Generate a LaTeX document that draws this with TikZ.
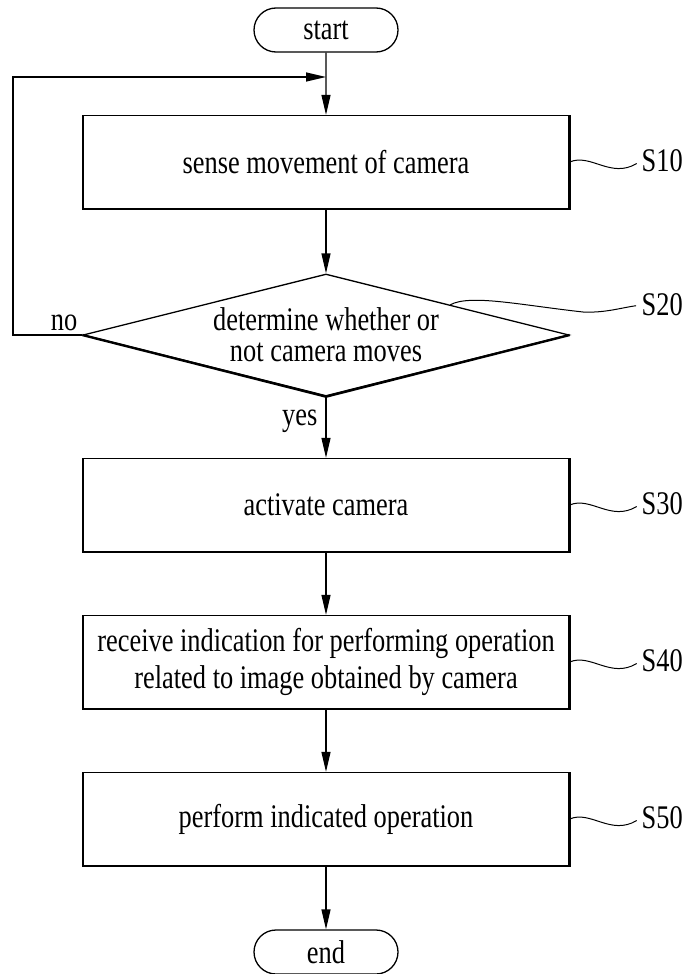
\documentclass[tikz,border=0pt]{standalone}
\usepackage{fontspec}
\setmainfont{Liberation Serif}[FakeStretch=0.8]
\usetikzlibrary{shapes.geometric, shapes.misc, arrows.meta, positioning, calc}

\begin{document}
\begin{tikzpicture}[
    x=1pt, y=-1pt,
    line width=1.3pt,
    box/.style={rectangle, draw, minimum width=486pt, minimum height=93pt, inner sep=0pt, align=center, font=\fontsize{33}{37}\selectfont},
    terminal/.style={rounded rectangle, draw, minimum width=144pt, minimum height=44pt, inner sep=0pt, font=\fontsize{33}{37}\selectfont},
    decision/.style={diamond, draw, aspect=4, minimum width=486pt, minimum height=122pt, inner sep=0pt, align=center, font=\fontsize{33}{31}\selectfont},
    steplabel/.style={anchor=west, inner sep=0pt, font=\fontsize{33}{37}\selectfont},
    branch/.style={anchor=base east, inner sep=0pt, font=\fontsize{33}{37}\selectfont},
    arrow/.style={-{Triangle[length=20pt, width=9pt]}},
    leader/.style={line width=1pt, shorten >=5pt}
]
    \useasboundingbox (0,0) rectangle (691,974);

    \node[terminal] (start) at (326,30) {start};
    \node[box] (s10) at (326,162) {sense movement of camera};
    \node[decision] (dec) at (326,335) {determine whether or\\not camera moves};
    \node[box] (s30) at (326,505) {activate camera};
    \node[box] (s40) at (326,662) {receive indication for performing operation\\related to image obtained by camera};
    \node[box] (s50) at (326,819) {perform indicated operation};
    \node[terminal] (stop) at (326,952) {end};

    \node[branch] (no) at (78,330) {no};
    \node[branch] (yes) at (318,425) {yes};

    \node[steplabel] (l10) at (641,161) {S10};
    \node[steplabel] (l20) at (641,305) {S20};
    \node[steplabel] (l30) at (641,504) {S30};
    \node[steplabel] (l40) at (641,661) {S40};
    \node[steplabel] (l50) at (641,818) {S50};

    % heavier lower and right edges
    \foreach \b in {s10,s30,s40,s50}
        \draw[line width=2.4pt] (\b.south west) -- (\b.south east) -- (\b.north east);
    \draw[line width=2.4pt] (dec.west) -- (dec.south) -- (dec.east);

    \coordinate (jn) at (326,77);
    \coordinate (back) at (13,77);

    \draw[arrow] (start) -- (s10);
    \draw[arrow] (s10) -- (dec);
    \draw[arrow] (dec) -- (s30);
    \draw[arrow] (s30) -- (s40);
    \draw[arrow] (s40) -- (s50);
    \draw[arrow] (s50) -- (stop);
    \draw[arrow] (dec.west) -| (back) -- (jn);

    % step leaders
    \foreach \n in {10,30,40,50}
        \draw[leader] (s\n.east) .. controls ($(s\n.east)+(21,-9)$) and ($(s\n.east)+(41,17)$) .. (l\n.west);
    \coordinate (p20) at ($(dec.north)!0.51!(dec.east)$);
    \draw[leader] (p20) .. controls (470,294) and (520,305) .. (583,312) .. controls (605,313) and (620,308) .. (l20.west);
\end{tikzpicture}
\end{document}
